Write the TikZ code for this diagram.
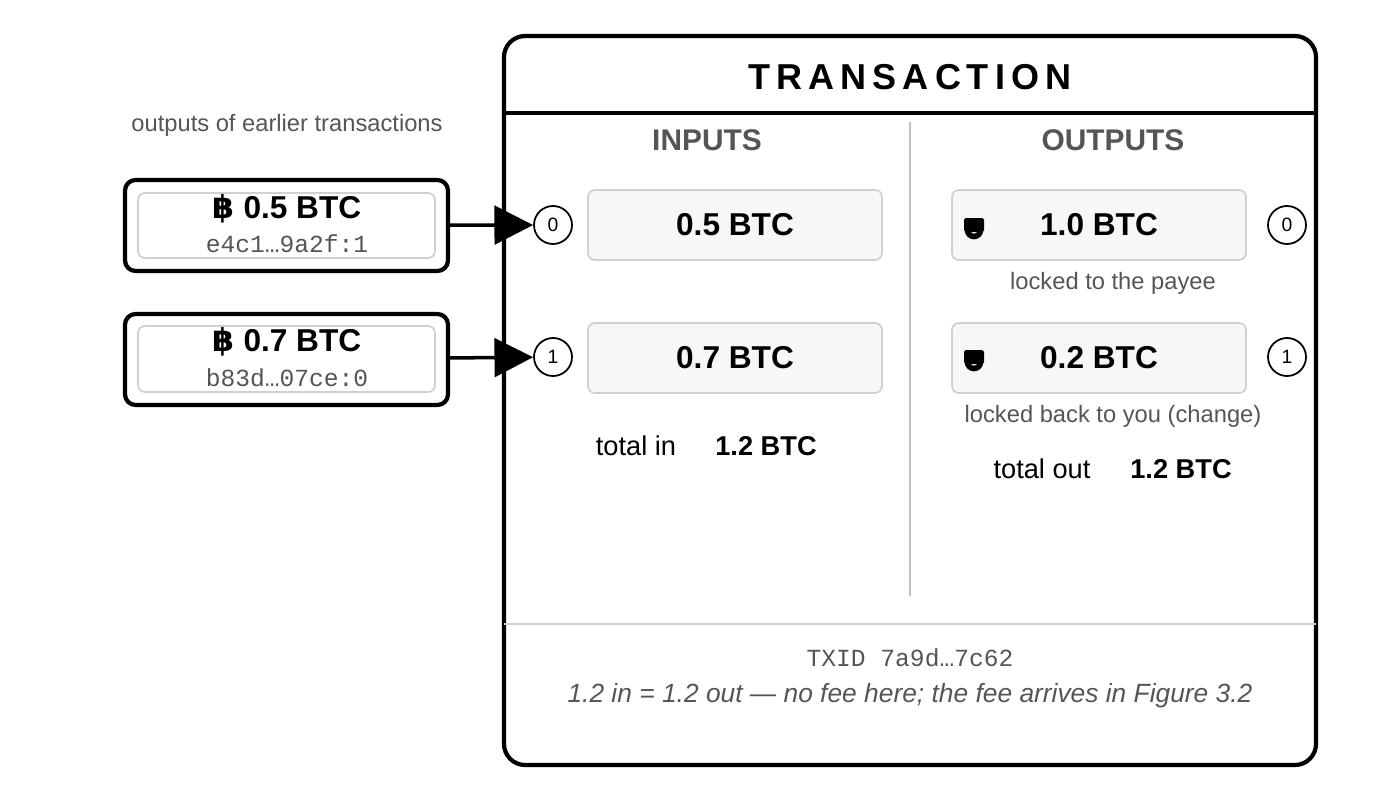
\documentclass[tikz,border=0pt]{standalone}
\usepackage{fontspec}
\setmainfont{Liberation Sans}
\setmonofont{Liberation Mono}
\newfontfamily\symfont{DejaVu Sans}
\usetikzlibrary{positioning,arrows.meta}
\definecolor{inkgray}{HTML}{555555}
\definecolor{boxfill}{HTML}{F7F7F7}
\definecolor{boxline}{HTML}{D0D0D0}
\newcommand{\btclock}[1]{%
  \fill[black,rounded corners=1pt] ($(#1)+(-10,-8)$) rectangle ($(#1)+(10,6)$);
  \draw[black,line width=3.2] ($(#1)+(-6.5,4)$) arc[start angle=180,end angle=0,radius=6.5];}
\usetikzlibrary{calc}
\begin{document}
\begin{tikzpicture}[x=0.02cm,y=-0.02cm]
  \tikzstyle{amount} = [rectangle, rounded corners=4pt, draw=boxline, fill=boxfill, line width=1, minimum width=294*0.02cm, minimum height=70*0.02cm, font=\fontsize{18}{20}\selectfont\bfseries]
  \tikzstyle{port} = [circle, draw=black, line width=1, minimum size=38*0.02cm, inner sep=0pt, font=\fontsize{11}{12}\selectfont]
  \tikzstyle{prev} = [rectangle, rounded corners=6pt, draw=black, line width=2.4, minimum width=323*0.02cm, minimum height=91*0.02cm]
  \tikzstyle{note} = [text=inkgray, font=\fontsize{13.5}{15}\selectfont]
  \tikzstyle{line} = [-{Triangle[length=22pt,width=22pt]}, draw=black, line width=2]
  \useasboundingbox (0,0) rectangle (1400,801);
  % transaction frame
  \draw[line width=2.4, rounded corners=12pt] (504,36) rectangle (1316,765);
  \draw[line width=2] (504,113) -- (1316,113);
  \draw[boxline, line width=1] (504,624) -- (1316,624);
  \draw[boxline!80!gray, line width=1.2] (910,122) -- (910,596);
  \node[font=\fontsize{20.5}{22}\selectfont\bfseries] (title) at (910,77) {T\,R\,A\,N\,S\,A\,C\,T\,I\,O\,N};
  \node[text=inkgray, font=\fontsize{17}{19}\selectfont\bfseries] (inputs) at (707,140) {INPUTS};
  \node[text=inkgray, font=\fontsize{17}{19}\selectfont\bfseries] (outputs) at (1113,140) {OUTPUTS};
  % inputs
  \node[amount] (in0) at (735,225) {0.5 BTC};
  \node[amount] (in1) at (735,358) {0.7 BTC};
  \node[port] (p0) at (553,225) {0};
  \node[port] (p1) at (553,357) {1};
  \node[font=\fontsize{15.5}{17}\selectfont] (totin) at (636,446) {total in};
  \node[font=\fontsize{15.5}{17}\selectfont\bfseries] (totinv) at (766,446) {1.2 BTC};
  % outputs
  \node[amount] (out0) at (1099,225) {1.0 BTC};
  \node[amount] (out1) at (1099,358) {0.2 BTC};
  \btclock{974,226}
  \btclock{974,358}
  \node[port] (q0) at (1287,225) {0};
  \node[port] (q1) at (1287,357) {1};
  \node[note] (lock0) at (1113,283) {locked to the payee};
  \node[note] (lock1) at (1113,416) {locked back to you (change)};
  \node[font=\fontsize{15.5}{17}\selectfont] (totout) at (1042,469) {total out};
  \node[font=\fontsize{15.5}{17}\selectfont\bfseries] (totoutv) at (1181,469) {1.2 BTC};
  % footer
  \node[text=inkgray, font=\ttfamily\fontsize{14}{16}\selectfont] (txid) at (910,658) {TXID 7a9d…7c62};
  \node[text=inkgray, font=\itshape\fontsize{15}{17}\selectfont] (fee) at (910,696) {1.2 in = 1.2 out — no fee here; the fee arrives in Figure 3.2};
  % earlier outputs
  \node[note] (earlier) at (287,125) {outputs of earlier transactions};
  \node[prev] (u0) at (286.5,225.5) {};
  \node[prev] (u1) at (286.5,359.5) {};
  \draw[boxline, rounded corners=4pt, line width=1] (138,193) rectangle (435,258);
  \draw[boxline, rounded corners=4pt, line width=1] (138,326) rectangle (435,392);
  \node[font=\fontsize{18}{20}\selectfont\bfseries] (u0a) at (287,209) {{\symfont ฿} 0.5 BTC};
  \node[text=inkgray, font=\ttfamily\fontsize{14}{16}\selectfont] (u0b) at (287,244) {e4c1…9a2f:1};
  \node[font=\fontsize{18}{20}\selectfont\bfseries] (u1a) at (287,342) {{\symfont ฿} 0.7 BTC};
  \node[text=inkgray, font=\ttfamily\fontsize{14}{16}\selectfont] (u1b) at (287,378) {b83d…07ce:0};
  \draw[line] (u0) to (p0);
  \draw[line] (u1) to (p1);
\end{tikzpicture}
\end{document}
